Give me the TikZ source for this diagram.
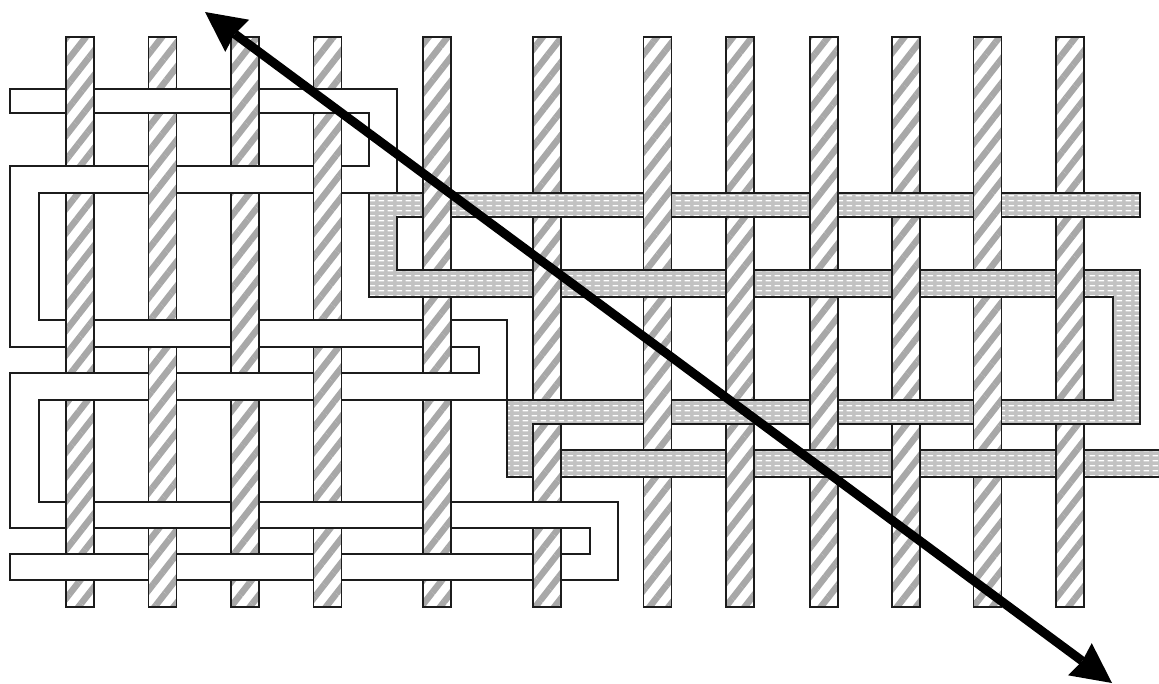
\documentclass[tikz,border=0pt]{standalone}
\usetikzlibrary{arrows.meta,patterns.meta}
\definecolor{edge}{HTML}{1C1C1C}
\definecolor{hatch}{HTML}{A8A8A8}
\definecolor{weft}{HTML}{C2C2C2}
\tikzdeclarepattern{name=weftdash,type=uncolored,
  bounding box={(0pt,0pt) and (9pt,5pt)},tile size={(9pt,5pt)},
  code={\fill (0.8pt,1.9pt) rectangle (6.8pt,3.4pt);}}
\tikzset{
  outl/.style={draw=edge,line width=1.2pt},
  warpfill/.style={preaction={fill=white},pattern={Lines[angle=52,distance=15pt,line width=6.5pt]},pattern color=hatch},
  warp/.style={warpfill,outl},
  wthread/.style={outl,fill=white},
  gthread/.style={outl,preaction={fill=weft},pattern=weftdash,pattern color=white},
  bias/.style={{Stealth[length=40pt,width=40pt,inset=3pt,line width=0pt]}-{Stealth[length=40pt,width=40pt,inset=3pt,line width=0pt]},line width=9pt},
}
\newcommand{\warpover}[3]{%
  \fill[warpfill] (#1-14,#2-0.7) rectangle (#1+14,#3+0.7);
  \draw[outl] (#1-14,#2-0.7) -- (#1-14,#3+0.7) (#1+14,#2-0.7) -- (#1+14,#3+0.7);}
\begin{document}
\begin{tikzpicture}[x=1pt,y=-1pt]
\useasboundingbox (0,0) rectangle (1159,683);
\foreach \x in {80,162.5,245,327.5,437,547,657.5,740,824,906,987.5,1070}
  \draw[warp] (\x-14,37) rectangle (\x+14,607);
% white weft
\draw[wthread] (10,89) -- (397,89) -- (397,193) -- (39,193) -- (39,320) -- (507,320) -- (507,400) -- (39,400) -- (39,502) -- (618,502) -- (618,580) -- (10,580) -- (10,554) -- (590,554) -- (590,528) -- (10,528) -- (10,373) -- (479,373) -- (479,347) -- (10,347) -- (10,166) -- (369,166) -- (369,113) -- (10,113) -- cycle;
% grey weft
\draw[gthread] (1140,193) -- (369,193) -- (369,297) -- (1113,297) -- (1113,400) -- (507,400) -- (507,477) -- (1170,477) -- (1170,450) -- (533,450) -- (533,424) -- (1140,424) -- (1140,270) -- (397,270) -- (397,217) -- (1140,217) -- cycle;
% warp lying on top
\foreach \t/\b/\xs in {89/113/{80,245}, 166/193/{162.5,327.5}, 320/347/{80,245,437}, 373/400/{162.5,327.5},
  502/528/{80,245,437}, 554/580/{162.5,327.5,547}, 193/217/{437,657.5,824,987.5}, 270/297/{547,740,906,1070},
  400/424/{657.5,824,987.5}, 450/477/{547,740,906,1070}}
  {\foreach \x in \xs {\warpover{\x}{\t}{\b}}}
\coordinate (nw) at (205,12);
\coordinate (se) at (1112,683);
\draw[bias] (nw) -- (se);
\end{tikzpicture}
\end{document}
